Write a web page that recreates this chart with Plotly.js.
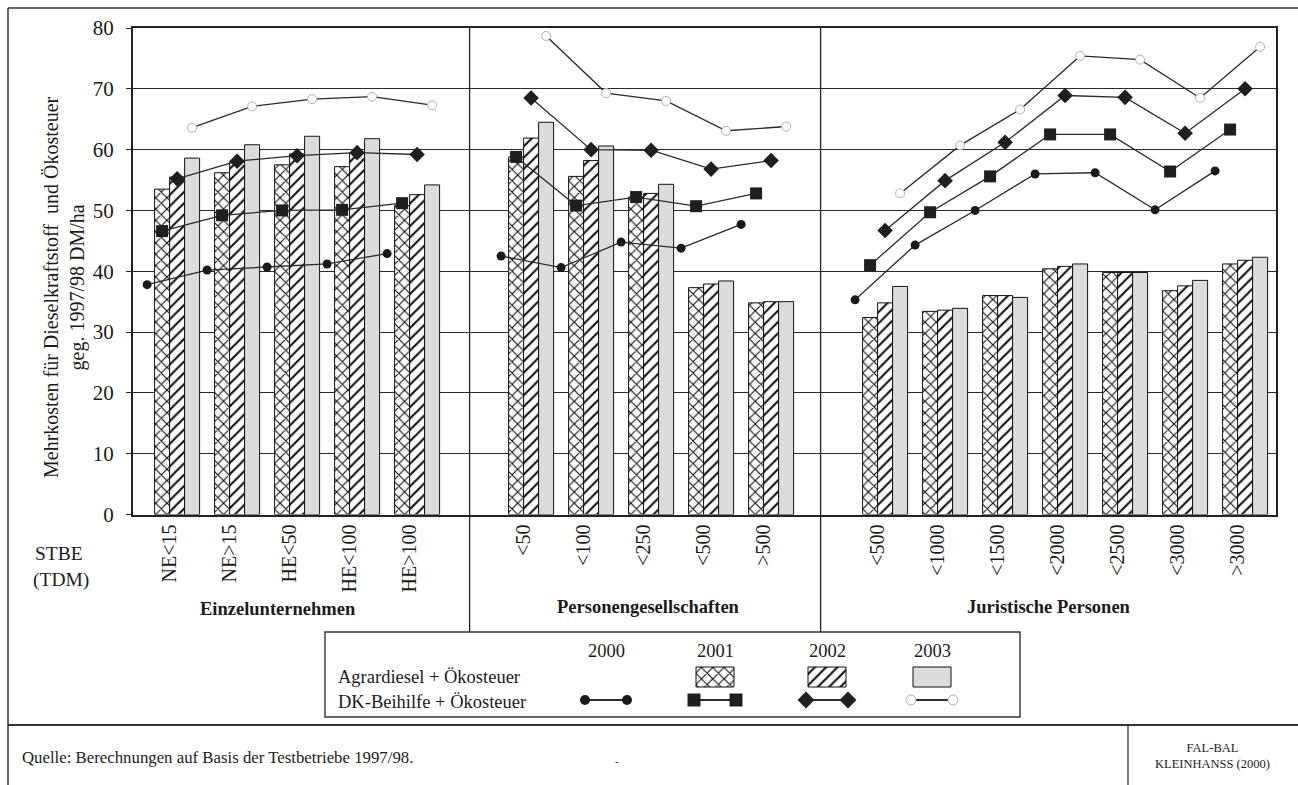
<!DOCTYPE html>
<html><head><meta charset="utf-8">
<script src="https://cdn.plot.ly/plotly-3.0.1.min.js"></script>
<style>html,body{margin:0;padding:0;background:#fff}</style>
</head><body><div id="chart" style="width:1298px;height:785px"></div>
<script>
// ---------------- data ----------------
const groupNames = ["Einzelunternehmen", "Personengesellschaften", "Juristische Personen"];
const cats1 = ["NE<15", "NE>15", "HE<50", "HE<100", "HE>100"];
const cats2 = ["<50", "<100", "<250", "<500", ">500"];
const cats3 = ["<500", "<1000", "<1500", "<2000", "<2500", "<3000", ">3000"];
const years = ["2000", "2001", "2002", "2003"];
const barLabel = "Agrardiesel + Ökosteuer";
const lineLabel = "DK-Beihilfe + Ökosteuer";

// Agrardiesel + Ökosteuer (bars), DM/ha
const agrar2001 = [53.5, 56.2, 57.5, 57.2, 50.8, 58.8, 55.6, 52.2, 37.3, 34.8, 32.4, 33.4, 36.0, 40.4, 39.8, 36.8, 41.2];
const agrar2002 = [55.5, 58.0, 59.3, 59.5, 52.6, 61.9, 58.2, 52.8, 37.9, 35.0, 34.8, 33.6, 36.0, 40.8, 39.8, 37.6, 41.8];
const agrar2003 = [58.6, 60.8, 62.2, 61.8, 54.2, 64.5, 60.6, 54.3, 38.4, 35.0, 37.5, 33.9, 35.7, 41.2, 39.8, 38.5, 42.3];
// DK-Beihilfe + Ökosteuer (lines), DM/ha
const dk2000 = [37.8, 40.2, 40.7, 41.2, 42.9, 42.5, 40.6, 44.8, 43.8, 47.7, 35.3, 44.3, 50.0, 56.0, 56.2, 50.1, 56.5];
const dk2001 = [46.6, 49.2, 50.0, 50.1, 51.2, 58.8, 50.8, 52.2, 50.7, 52.8, 41.0, 49.7, 55.6, 62.5, 62.5, 56.4, 63.3];
const dk2002 = [55.2, 58.1, 59.0, 59.5, 59.2, 68.5, 60.0, 59.9, 56.8, 58.2, 46.7, 54.9, 61.2, 68.9, 68.6, 62.7, 70.0];
const dk2003 = [63.6, 67.1, 68.3, 68.7, 67.3, 78.7, 69.3, 68.0, 63.1, 63.8, 52.8, 60.7, 66.6, 75.4, 74.8, 68.5, 76.9];

const yTitle = "Mehrkosten für Dieselkraftstoff  und Ökosteuer<br>geg. 1997/98 DM/ha";
const source = "Quelle: Berechnungen auf Basis der Testbetriebe 1997/98.";
const credit = "FAL-BAL<br>KLEINHANSS (2000)";

// ---------------- layout helpers ----------------
const W = 1298, H = 785;
const FONT = "Liberation Serif";
const TXT = "#1b1b1b";
const px = x => x / W;
const py = y => 1 - y / H;

const groupCats = [cats1, cats2, cats3];
const GAP = 0.9;              // extra space between the three groups (category units)
const pos = [], labels = [], groupOf = [];
groupCats.forEach((cs, g) => {
  cs.forEach(c => {
    pos.push(pos.length + g * GAP);
    labels.push(c.replace(/</g, "&lt;").replace(/>/g, "&gt;"));
    groupOf.push(g);
  });
});
const BW = 0.25;
function lineXY(vals, off) {
  const xs = [], ys = [];
  vals.forEach((v, i) => {
    if (i > 0 && groupOf[i] !== groupOf[i - 1]) { xs.push(null); ys.push(null); }
    xs.push(pos[i] + off); ys.push(v);
  });
  return {xs, ys};
}

const lineColor = "#2a2a2a";
const lineStyles = [
  {symbol: "circle", size: 9, color: "#1a1a1a", lc: "#1a1a1a", lw: 0},
  {symbol: "square", size: 12, color: "#1f1f1f", lc: "#1f1f1f", lw: 0},
  {symbol: "diamond", size: 12, color: "#1f1f1f", lc: "#1f1f1f", lw: 0},
  {symbol: "circle", size: 9, color: "#ffffff", lc: "#b0b0b0", lw: 1}
];
const barStyles = [
  {shape: "x", color: "#ffffff", fg: "#111"},
  {shape: "/", color: "#ffffff", fg: "#111"},
  {shape: "", color: "#dcdcdc", fg: "#dcdcdc"}
];
function barMarker(st) {
  const m = {color: st.color, line: {color: "#111", width: 1}};
  if (st.shape) m.pattern = {shape: st.shape, fgcolor: st.fg, bgcolor: "#ffffff", size: 8, solidity: 0.27};
  return m;
}

const traces = [];
const barSeries = [agrar2001, agrar2002, agrar2003];
barSeries.forEach((vals, k) => {
  traces.push({
    type: "bar", name: barLabel + " " + years[k + 1],
    x: pos, y: vals, width: BW, offset: (k - 1) * BW,
    marker: barMarker(barStyles[k]), showlegend: false, hoverinfo: "skip"
  });
});
const lineSeries = [dk2000, dk2001, dk2002, dk2003];
lineSeries.forEach((vals, k) => {
  const st = lineStyles[k];
  const {xs, ys} = lineXY(vals, (k - 1.5) * BW);
  traces.push({
    type: "scatter", mode: "lines+markers", name: lineLabel + " " + years[k],
    x: xs, y: ys, connectgaps: false, cliponaxis: false,
    line: {color: lineColor, width: 1.3},
    marker: {symbol: st.symbol, size: st.size, color: st.color, line: {color: st.lc, width: st.lw}},
    showlegend: false, hoverinfo: "skip"
  });
});

// ----- hand-built legend (grid: rows = measures, columns = years), pixel axes -----
const legCols = [606, 715, 827, 932];
const legSwatchW = 38, legSwatchTop = 667, legSwatchH = 20, legLineY = 700, legLineHalf = 21;
barStyles.forEach((st, k) => {
  traces.push({
    type: "bar", xaxis: "x2", yaxis: "y2", x: [legCols[k + 1]], base: [legSwatchTop], y: [legSwatchH],
    width: [legSwatchW], marker: barMarker(st), showlegend: false, hoverinfo: "skip"
  });
});
lineStyles.forEach((st, k) => {
  traces.push({
    type: "scatter", mode: "lines+markers", xaxis: "x2", yaxis: "y2",
    x: [legCols[k] - legLineHalf, legCols[k] + legLineHalf], y: [legLineY, legLineY],
    line: {color: lineColor, width: 2.2},
    marker: {symbol: st.symbol, size: st.size + 1, color: st.color, line: {color: st.lc, width: st.lw}},
    showlegend: false, hoverinfo: "skip"
  });
});

const g1 = pos.slice(0, cats1.length), g2 = pos.slice(cats1.length, cats1.length + cats2.length), g3 = pos.slice(cats1.length + cats2.length);
const div1 = (g1[g1.length - 1] + g2[0]) / 2 + 0.05;
const div2 = (g2[g2.length - 1] + g3[0]) / 2;

const shapes = [
  {type: "line", xref: "x", yref: "paper", x0: div1, x1: div1, y0: py(632), y1: py(28), line: {color: "#222", width: 1.3}},
  {type: "line", xref: "x", yref: "paper", x0: div2, x1: div2, y0: py(632), y1: py(28), line: {color: "#222", width: 1.3}},
  {type: "line", xref: "paper", yref: "paper", x0: px(8), x1: 1, y0: py(8), y1: py(8), line: {color: "#333", width: 1.5}},
  {type: "line", xref: "paper", yref: "paper", x0: px(8), x1: px(8), y0: py(8), y1: 0, line: {color: "#333", width: 1.5}},
  {type: "line", xref: "paper", yref: "paper", x0: px(8), x1: 1, y0: py(725), y1: py(725), line: {color: "#333", width: 2.2}},
  {type: "line", xref: "paper", yref: "paper", x0: px(1128), x1: px(1128), y0: py(725), y1: 0, line: {color: "#333", width: 1.3}},
  {type: "rect", xref: "paper", yref: "paper", x0: px(325), x1: px(1020), y0: py(717), y1: py(632), line: {color: "#333", width: 1.4}}
];

const ann = (text, x, y, size, opts) => Object.assign({
  text: text, xref: "paper", yref: "paper", x: px(x), y: py(y), showarrow: false,
  font: {family: FONT, size: size, color: TXT}, xanchor: "center", yanchor: "middle"
}, opts || {});

const annotations = [
  ann(yTitle, 65, 287, 20, {textangle: -90}),
  ann("STBE", 33, 553, 19.5, {xanchor: "left"}),
  ann("(TDM)", 31, 580, 19.5, {xanchor: "left"}),
  ann("<b>" + groupNames[0] + "</b>", 278, 609, 18.5),
  ann("<b>" + groupNames[1] + "</b>", 648, 607, 18.5),
  ann("<b>" + groupNames[2] + "</b>", 1049, 607, 18.5),
  ann(years[0], legCols[0], 651, 18.5),
  ann(years[1], legCols[1], 651, 18.5),
  ann(years[2], legCols[2], 651, 18.5),
  ann(years[3], legCols[3], 651, 18.5),
  ann(barLabel, 336, 677, 18.5, {xanchor: "left"}),
  ann(lineLabel, 336, 702, 18.5, {xanchor: "left"}),
  ann(source, 20, 757, 16.8, {xanchor: "left"}),
  ann("-", 617, 761, 11),
  ann(credit, 1212, 756, 12.5)
];

const layout = {
  width: W, height: H,
  margin: {l: 0, r: 0, t: 0, b: 0},
  paper_bgcolor: "#ffffff", plot_bgcolor: "rgba(0,0,0,0)",
  barmode: "overlay", showlegend: false,
  font: {family: FONT, color: TXT},
  xaxis: {
    domain: [px(133), px(1276)], range: [-0.61, pos[pos.length - 1] + 0.64],
    tickmode: "array", tickvals: pos, ticktext: labels, tickangle: -90,
    tickfont: {family: FONT, size: 20, color: TXT},
    showgrid: false, zeroline: false, showline: true, linecolor: "#222", linewidth: 2, mirror: true,
    ticks: "", fixedrange: true
  },
  yaxis: {
    domain: [py(514.5), py(28)], range: [0, 80], dtick: 10, tick0: 0,
    tickfont: {family: FONT, size: 21, color: TXT},
    showgrid: true, gridcolor: "#2a2a2a", gridwidth: 1, zeroline: false,
    showline: true, linecolor: "#222", linewidth: 2, mirror: true,
    ticks: "outside", ticklen: 5, tickcolor: "#222", ticklabelstandoff: 8, fixedrange: true
  },
  xaxis2: {domain: [0, 1], range: [0, W], visible: false, anchor: "y2", fixedrange: true},
  yaxis2: {domain: [0, 1], range: [H, 0], visible: false, anchor: "x2", fixedrange: true},
  shapes: shapes, annotations: annotations
};

Plotly.newPlot("chart", traces, layout, {staticPlot: true, displayModeBar: false});
</script>
</body></html>
